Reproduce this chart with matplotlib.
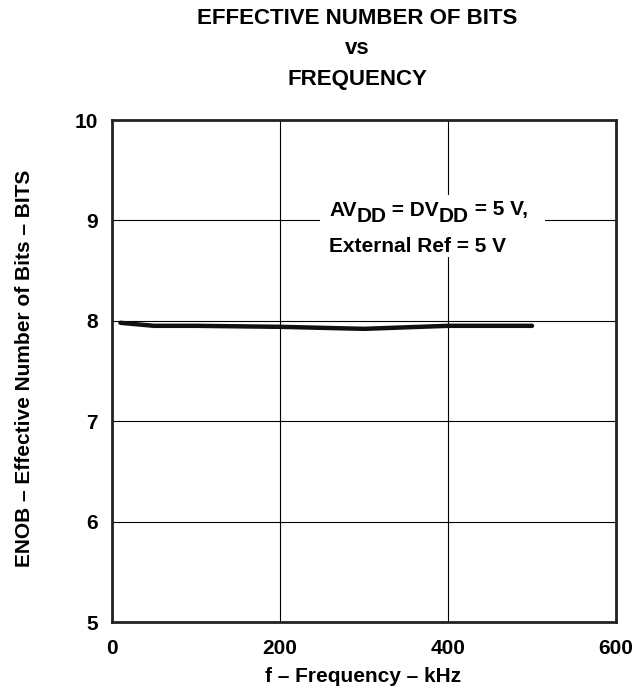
import matplotlib
matplotlib.use("Agg")
import matplotlib.pyplot as plt
from matplotlib.patches import Rectangle

freq_khz = [10, 50, 100, 200, 300, 400, 500]
enob_bits = [7.98, 7.95, 7.95, 7.94, 7.92, 7.95, 7.95]
x_ticks = [0, 200, 400, 600]
y_ticks = [5, 6, 7, 8, 9, 10]

plt.rcParams['font.family'] = ['Liberation Sans', 'DejaVu Sans']
plt.rcParams['font.weight'] = 'bold'

W, H = 632, 689
fig = plt.figure(figsize=(W/100, H/100), dpi=100)
ax = fig.add_axes([112/W, 1-622/H, 504/W, 502/H])

ax.plot(freq_khz, enob_bits, color='#111111', lw=3.2, solid_capstyle='round', zorder=3)
ax.set_xlim(0, 600)
ax.set_ylim(5, 10)
ax.set_xticks(x_ticks)
ax.set_yticks(y_ticks)
ax.grid(True, color='black', lw=0.8)
ax.tick_params(axis='y', length=0, labelsize=15, pad=10)
ax.tick_params(axis='x', length=0, labelsize=15, pad=12)
for lab in ax.get_xticklabels() + ax.get_yticklabels():
    lab.set_fontweight('bold')
for s in ax.spines.values():
    s.set_linewidth(2)
    s.set_color('#222222')
    s.set_zorder(4)

fig.text(363/W, 1-677/H, 'f – Frequency – kHz', ha='center', va='center', fontsize=15, fontweight='bold')
fig.text(25/W, 1-368/H, 'ENOB – Effective Number of Bits – BITS', ha='center', va='center',
         rotation=90, fontsize=15, fontweight='bold')

fig.text(357/W, 1-18/H, 'EFFECTIVE NUMBER OF BITS', ha='center', va='center', fontsize=16, fontweight='bold')
fig.text(357/W, 1-48/H, 'vs', ha='center', va='center', fontsize=16, fontweight='bold')
fig.text(357/W, 1-80/H, 'FREQUENCY', ha='center', va='center', fontsize=16, fontweight='bold')

# white box behind annotation (covers grid lines)
fig.patches.append(Rectangle((320/W, 1-257/H), 225/W, 62/H, transform=fig.transFigure,
                             facecolor='white', edgecolor='none', zorder=2))
ax.set_zorder(1)

fig.canvas.draw()
renderer = fig.canvas.get_renderer()
pieces = [('AV', 0), ('DD', -6), (' = DV', 0), ('DD', -6), (' = 5 V,', 0)]
x = 329
y = 210
for txt, dy in pieces:
    t = fig.text(x/W, 1-(y - dy)/H, txt, ha='left', va='center', fontsize=15, fontweight='bold', zorder=5)
    bb = t.get_window_extent(renderer)
    x += bb.width
fig.text(329/W, 1-247/H, 'External Ref = 5 V', ha='left', va='center', fontsize=15, fontweight='bold', zorder=5)

fig.savefig('out.png', dpi=100)
